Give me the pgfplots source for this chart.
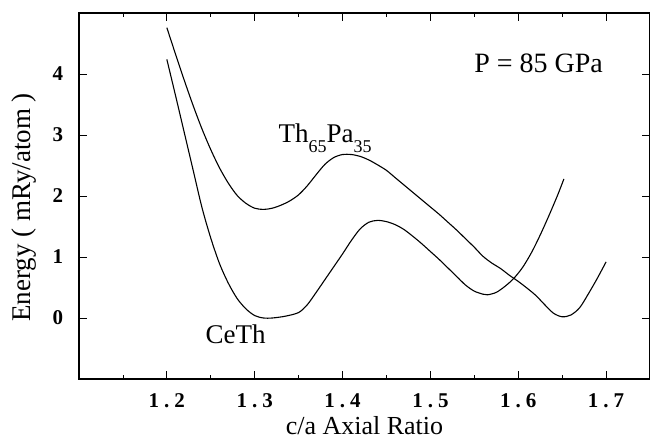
\documentclass[border=0pt]{standalone}
\usepackage{pgfplots}
\pgfplotsset{compat=1.18}
\usepackage{fontspec}
\setmainfont{Liberation Serif}

% data: c/a, energy (mRy/atom)
\pgfplotstableread{
x y
1.200 4.76
1.210 4.32
1.220 3.89
1.230 3.48
1.240 3.10
1.250 2.76
1.260 2.46
1.270 2.21
1.280 2.01
1.290 1.88
1.300 1.80
1.310 1.78
1.320 1.80
1.330 1.85
1.340 1.92
1.350 2.02
1.360 2.17
1.370 2.35
1.380 2.52
1.390 2.63
1.400 2.68
1.410 2.68
1.420 2.65
1.430 2.59
1.440 2.51
1.450 2.42
1.460 2.30
1.470 2.18
1.480 2.06
1.490 1.94
1.500 1.82
1.510 1.70
1.520 1.57
1.530 1.44
1.540 1.30
1.550 1.16
1.560 1.01
1.570 0.90
1.580 0.81
1.590 0.70
1.600 0.60
1.610 0.49
1.620 0.37
1.630 0.22
1.640 0.08
1.650 0.02
1.660 0.05
1.670 0.17
1.680 0.40
1.690 0.65
1.700 0.92
}\thpa

\pgfplotstableread{
x y
1.200 4.24
1.210 3.64
1.220 3.03
1.230 2.42
1.240 1.81
1.250 1.31
1.260 0.89
1.270 0.57
1.280 0.32
1.290 0.15
1.300 0.04
1.310 0.00
1.320 0.00
1.335 0.03
1.350 0.09
1.360 0.22
1.370 0.42
1.380 0.63
1.390 0.84
1.400 1.05
1.410 1.27
1.420 1.46
1.430 1.57
1.440 1.60
1.450 1.58
1.460 1.53
1.470 1.45
1.480 1.34
1.490 1.22
1.500 1.09
1.510 0.96
1.520 0.82
1.530 0.68
1.540 0.54
1.550 0.44
1.560 0.39
1.565 0.38
1.575 0.42
1.585 0.52
1.595 0.65
1.605 0.83
1.615 1.07
1.625 1.36
1.635 1.68
1.645 2.02
1.652 2.28
}\ceth

\newcommand{\tl}[2]{#1\hspace{5pt}.\hspace{5pt}#2}

\begin{document}
\begin{tikzpicture}
\begin{axis}[
    scale only axis,
    width=571pt, height=366pt,
    xmin=1.1, xmax=1.75, ymin=-1, ymax=5,
    xtick={1.2,1.3,1.4,1.5,1.6,1.7},
    xticklabels={\tl12,\tl13,\tl14,\tl15,\tl16,\tl17},
    minor xtick={1.15,1.25,1.35,1.45,1.55,1.65},
    ytick={0,1,2,3,4},
    yticklabels={0,1,2,3,4},
    tick align=inside,
    major tick length=8pt, minor tick length=4pt,
    tick style={black, line width=0.8pt},
    axis line style={line width=1.4pt},
    ticklabel style={font=\fontsize{21}{21}\selectfont\bfseries, inner sep=0pt},
    xticklabel style={anchor=center, yshift=-22pt},
    yticklabel style={anchor=center, xshift=-21pt},
    xlabel={c/a Axial Ratio},
    ylabel={Energy ( mRy/atom )},
    label style={font=\fontsize{27}{27}\selectfont, inner sep=0pt},
    x label style={at={(axis description cs:0.5,0)}, anchor=base, yshift=-55pt,
        font=\fontsize{26}{26}\selectfont},
    y label style={at={(axis description cs:-0.0963,0.469)}, anchor=center},
]
\addplot[black, line width=1.1pt, smooth] table {\thpa};
\addplot[black, line width=1.1pt, smooth] table {\ceth};

\node[anchor=base west, font=\fontsize{28}{28}\selectfont] at (axis cs:1.546,4.02) {P = 85 GPa};
\node[anchor=base west, font=\fontsize{27}{27}\selectfont, inner sep=0pt] at (axis cs:1.327,2.876)
    {Th\raisebox{-0.38em}{\fontsize{18}{18}\selectfont 65}Pa\raisebox{-0.38em}{\fontsize{18}{18}\selectfont 35}};
\node[anchor=base west, font=\fontsize{27}{27}\selectfont, inner sep=0pt] at (axis cs:1.244,-0.417) {CeTh};
\end{axis}
\pgfresetboundingbox
\path[use as bounding box] (-79pt,-60pt) rectangle (571pt,379pt);
\end{tikzpicture}
\end{document}
